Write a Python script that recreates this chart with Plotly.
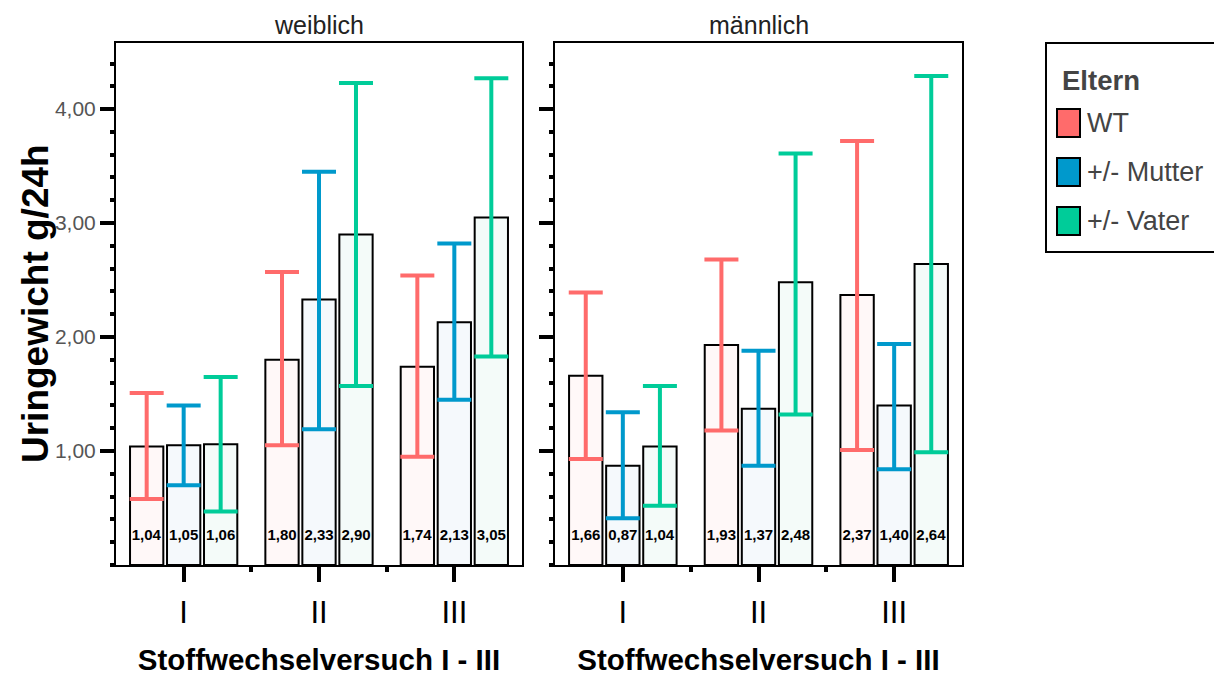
import plotly.graph_objects as go

# ---------------- data ----------------
categories = ["I", "II", "III"]
groups = ["WT", "+/- Mutter", "+/- Vater"]
panels = ["weiblich", "männlich"]

# weiblich
w_wt_mean = [1.04, 1.80, 1.74]
w_wt_lo = [0.58, 1.05, 0.95]
w_wt_hi = [1.51, 2.57, 2.54]
w_mu_mean = [1.05, 2.33, 2.13]
w_mu_lo = [0.70, 1.19, 1.45]
w_mu_hi = [1.40, 3.45, 2.82]
w_va_mean = [1.06, 2.90, 3.05]
w_va_lo = [0.47, 1.57, 1.83]
w_va_hi = [1.65, 4.23, 4.27]

# männlich
m_wt_mean = [1.66, 1.93, 2.37]
m_wt_lo = [0.93, 1.18, 1.01]
m_wt_hi = [2.39, 2.68, 3.72]
m_mu_mean = [0.87, 1.37, 1.40]
m_mu_lo = [0.41, 0.87, 0.84]
m_mu_hi = [1.34, 1.88, 1.94]
m_va_mean = [1.04, 2.48, 2.64]
m_va_lo = [0.52, 1.32, 0.99]
m_va_hi = [1.57, 3.61, 4.29]

y_ticks = [1, 2, 3, 4]

# ---------------- styles ----------------
err_colors = ["#ff6b6b", "#0099cc", "#00cc99"]
fill_colors = ["#fff8f8", "#f5f9fc", "#f4fbf9"]
FONT = "Liberation Sans, Arial, sans-serif"

panel_data = [
    [(w_wt_mean, w_wt_lo, w_wt_hi), (w_mu_mean, w_mu_lo, w_mu_hi), (w_va_mean, w_va_lo, w_va_hi)],
    [(m_wt_mean, m_wt_lo, m_wt_hi), (m_mu_mean, m_mu_lo, m_mu_hi), (m_va_mean, m_va_lo, m_va_hi)],
]

W, H = 1214, 677
fig = go.Figure()

xpos = list(range(len(categories)))
for p, pdata in enumerate(panel_data):
    xa = "x" if p == 0 else "x2"
    ya = "y" if p == 0 else "y2"
    for g, (mean, lo, hi) in enumerate(pdata):
        fig.add_trace(go.Bar(
            x=xpos, y=mean, xaxis=xa, yaxis=ya,
            name=groups[g], legendgroup=groups[g], showlegend=False,
            offsetgroup=str(g),
            marker=dict(color=fill_colors[g], line=dict(color="black", width=2)),
            error_y=dict(type="data", symmetric=False,
                         array=[h - m for h, m in zip(hi, mean)],
                         arrayminus=[m - l for m, l in zip(mean, lo)],
                         color=err_colors[g], thickness=4, width=17),
            texttemplate="<b>%{y:.2f}</b><br> ",
            textposition="inside", insidetextanchor="start", textangle=0,
            constraintext="none",
            insidetextfont=dict(family=FONT, size=15, color="black"),
            hoverinfo="y",
        ))

x_dom = [[116 / W, 522 / W], [555 / W, 962 / W]]
y_dom = [1 - 565 / H, 1 - 43 / H]

common_x = dict(
    range=[-0.5, 2.5], tickmode="array", tickvals=xpos, ticktext=categories,
    ticks="outside", ticklen=15, tickwidth=4, tickcolor="black",
    ticklabelstandoff=4,
    tickfont=dict(family=FONT, size=31, color="black"),
    minor=dict(tickmode="array", tickvals=[0.5, 1.5], ticks="outside", ticklen=5,
               tickwidth=4, tickcolor="black"),
    showline=True, linecolor="black", linewidth=2, mirror=True,
    showgrid=False, zeroline=False, automargin=False,
    title=dict(text="<b>Stoffwechselversuch I - III</b>",
               font=dict(family=FONT, size=29.5, color="black"), standoff=20),
)
common_y = dict(
    range=[0, 4.58], tickmode="array", tickvals=y_ticks, tickformat=".2f",
    ticks="outside", ticklen=14, tickwidth=4, tickcolor="black",
    tickfont=dict(family=FONT, size=21, color="#555555"),
    minor=dict(dtick=0.2, tick0=0, ticks="outside", ticklen=4, tickwidth=4,
               tickcolor="black"),
    showline=True, linecolor="black", linewidth=2, mirror=True,
    showgrid=False, zeroline=False, automargin=False,
)

fig.update_layout(
    width=W, height=H,
    margin=dict(l=0, r=0, t=0, b=0),
    paper_bgcolor="white", plot_bgcolor="white",
    separators=",.",
    barmode="group", bargap=0.18, bargroupgap=0.1,
    font=dict(family=FONT, color="black"),
    xaxis=dict(domain=x_dom[0], anchor="y", **common_x),
    yaxis=dict(domain=y_dom, anchor="x", **common_y),
    xaxis2=dict(domain=x_dom[1], anchor="y2", **common_x),
    yaxis2=dict(domain=y_dom, anchor="x2", showticklabels=False, **common_y),
    showlegend=False,
)


def px_x(v):
    return v / W


def px_y(v):
    return 1 - v / H


# y axis title
fig.add_annotation(text="<b>Uringewicht g/24h</b>", xref="paper", yref="paper",
                   x=px_x(35), y=(y_dom[0] + y_dom[1]) / 2, textangle=-90,
                   xanchor="center", yanchor="middle", showarrow=False,
                   font=dict(family=FONT, size=37, color="black"))

# panel titles
for p, name in enumerate(panels):
    fig.add_annotation(
        text=name, xref="paper", yref="paper",
        x=(x_dom[p][0] + x_dom[p][1]) / 2, y=px_y(25),
        showarrow=False, xanchor="center", yanchor="middle",
        font=dict(family=FONT, size=25, color="#222222"),
    )

# legend (drawn as a box with swatches and labels)
fig.add_shape(type="rect", xref="paper", yref="paper",
              x0=px_x(1046), x1=px_x(1230), y0=px_y(252), y1=px_y(43),
              line=dict(color="black", width=2), fillcolor="white", layer="below")
fig.add_annotation(text="<b>Eltern</b>", xref="paper", yref="paper",
                   x=px_x(1060), y=px_y(80), xanchor="left", yanchor="middle",
                   showarrow=False, font=dict(family=FONT, size=27.5, color="#444444"))
legend_centers = [123, 172, 221]
for g, name in enumerate(groups):
    cy = legend_centers[g]
    fig.add_shape(type="rect", xref="paper", yref="paper",
                  x0=px_x(1057), x1=px_x(1080), y0=px_y(cy + 14), y1=px_y(cy - 14),
                  line=dict(color="black", width=2), fillcolor=err_colors[g])
    fig.add_annotation(text=name, xref="paper", yref="paper",
                       x=px_x(1085), y=px_y(cy), xanchor="left", yanchor="middle",
                       showarrow=False, font=dict(family=FONT, size=27, color="#444444"))

fig.write_html("out.html", config={"displayModeBar": False},
               post_script="document.body.style.margin='0';")
